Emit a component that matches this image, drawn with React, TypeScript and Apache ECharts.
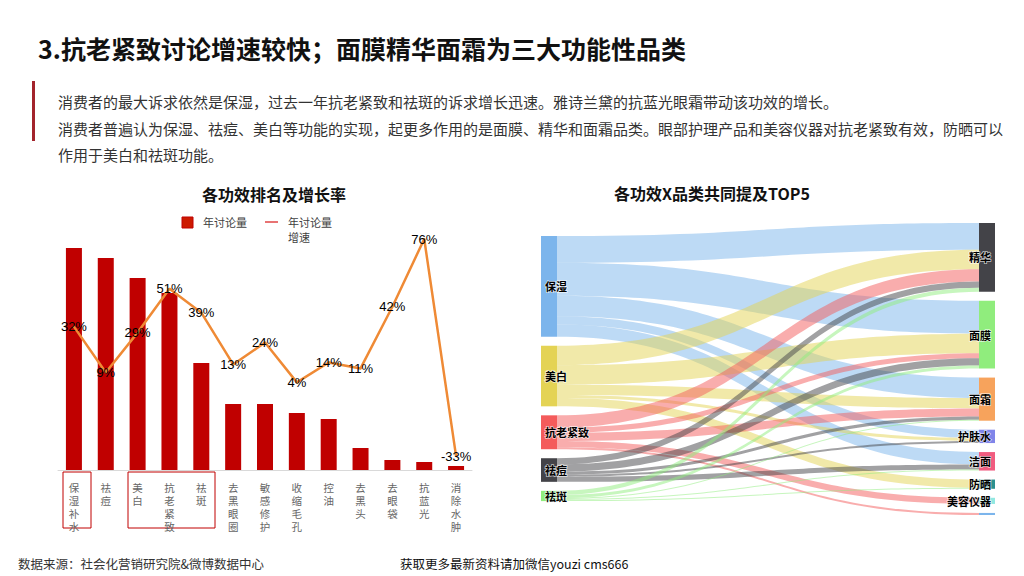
import React, { useEffect, useRef } from "react";
import * as echarts from "echarts";

// ---- Left chart data ----
const categories = ["保湿补水", "祛痘", "美白", "抗老紧致", "祛斑", "去黑眼圈", "敏感修护", "收缩毛孔", "控油", "去黑头", "去眼袋", "抗蓝光", "消除水肿"];
const discussionVolume = [222, 212, 192, 177, 107, 66, 66, 57, 51, 22, 10, 8, 4];
const growthRate = [32, 9, 29, 51, 39, 13, 24, 4, 14, 11, 42, 76, -33];

// ---- Sankey data ----
const efficacyNodes = ["保湿", "美白", "抗老紧致", "祛痘", "祛斑"];
const productNodes = ["精华", "面膜", "面霜", "护肤水", "洁面", "防晒", "美容仪器", "眼部护理"];
const coMentions: [string, string, number][] = [
  ["保湿", "精华", 26], ["保湿", "面膜", 32], ["保湿", "面霜", 20], ["保湿", "护肤水", 8], ["保湿", "洁面", 12],
  ["美白", "精华", 19], ["美白", "面膜", 19], ["美白", "面霜", 10], ["美白", "护肤水", 3], ["美白", "防晒", 8],
  ["抗老紧致", "精华", 12], ["抗老紧致", "面膜", 5], ["抗老紧致", "面霜", 8], ["抗老紧致", "美容仪器", 6], ["抗老紧致", "眼部护理", 2],
  ["祛痘", "精华", 6], ["祛痘", "面膜", 7], ["祛痘", "面霜", 3], ["祛痘", "护肤水", 2], ["祛痘", "洁面", 5],
  ["祛斑", "精华", 4], ["祛斑", "面膜", 3], ["祛斑", "面霜", 1], ["祛斑", "洁面", 1], ["祛斑", "防晒", 1],
];

const nodeColors: Record<string, string> = {
  保湿: "#7cb5ec", 精华: "#434348", 面膜: "#90ed7d", 面霜: "#f7a35c", 护肤水: "#8085e9",
  洁面: "#f15c80", 美白: "#e4d354", 防晒: "#2b908f", 抗老紧致: "#f45b5b", 美容仪器: "#91e8e1",
  眼部护理: "#7cb5ec", 祛痘: "#434348", 祛斑: "#90ed7d",
};

const mainTitle = "3.抗老紧致讨论增速较快；面膜精华面霜为三大功能性品类";
const bodyLines = [
  "消费者的最大诉求依然是保湿，过去一年抗老紧致和祛斑的诉求增长迅速。雅诗兰黛的抗蓝光眼霜带动该功效的增长。",
  "消费者普遍认为保湿、祛痘、美白等功能的实现，起更多作用的是面膜、精华和面霜品类。眼部护理产品和美容仪器对抗老紧致有效，防晒可以",
  "作用于美白和祛斑功能。",
];
const leftTitle = "各功效排名及增长率";
const rightTitle = "各功效X品类共同提及TOP5";
const legendBar = "年讨论量";
const legendLine = ["年讨论量", "增速"];
const sourceNote = "数据来源：社会化营销研究院&微博数据中心";
const contactNote = "获取更多最新资料请加微信youzi cms666";

const CJK = '"Noto Sans CJK SC", "Noto Sans", sans-serif';
const LAT = '"Liberation Sans", "Noto Sans CJK SC", sans-serif';

function txt(text: string, x: number, y: number, opts: any = {}) {
  const align = opts.align || "left";
  return {
    type: "text",
    silent: true,
    style: {
      text,
      x,
      y,
      fill: opts.fill || "#333",
      fontSize: opts.fontSize || 14,
      fontWeight: opts.fontWeight || "normal",
      fontFamily: opts.fontFamily || CJK,
      textAlign: align,
      align,
      textVerticalAlign: "middle",
      verticalAlign: "middle",
    },
  };
}

export default function App() {
  const ref = useRef<HTMLDivElement>(null);
  useEffect(() => {
    if (!ref.current) return;
    const chart = echarts.init(ref.current, null, { renderer: "svg" });

    const spacer = "__spacer__";
    const sankeyNodes: any[] = [
      { name: spacer, value: 4, depth: 0, itemStyle: { color: "rgba(0,0,0,0)" }, label: { show: false } },
      ...efficacyNodes.map((n) => ({
        name: n,
        depth: 0,
        itemStyle: { color: nodeColors[n] },
        label: { position: "insideLeft", distance: 4 },
      })),
      ...productNodes.map((n) => ({
        name: n,
        depth: 1,
        itemStyle: { color: nodeColors[n] },
        label: n === "眼部护理" ? { show: false } : { position: "insideRight", distance: 4 },
      })),
    ];
    const sankeyLinks = coMentions.map(([s, t, v]) => ({ source: s, target: t, value: v }));

    const graphics: any[] = [
      txt(mainTitle, 38, 48, { fontSize: 25, fontWeight: "bold", fill: "#111" }),
      { type: "rect", silent: true, shape: { x: 32, y: 81, width: 3, height: 60 }, style: { fill: "#a3242c" } },
      txt(bodyLines[0], 58, 101, { fontSize: 15, fill: "#333" }),
      txt(bodyLines[1], 58, 128, { fontSize: 15, fill: "#333" }),
      txt(bodyLines[2], 58, 154, { fontSize: 15, fill: "#333" }),
      txt(leftTitle, 274, 194, { fontSize: 16, fontWeight: "bold", fill: "#111", align: "center" }),
      txt(rightTitle, 712, 193, { fontSize: 16, fontWeight: "bold", fill: "#111", align: "center" }),
      { type: "rect", silent: true, shape: { x: 182, y: 217, width: 11, height: 11 }, style: { fill: "#cc1a00", stroke: "#c00000", lineWidth: 1 } },
      txt(legendBar, 203, 222, { fontSize: 11, fill: "#404040" }),
      { type: "line", silent: true, shape: { x1: 265, y1: 222, x2: 278, y2: 222 }, style: { stroke: "#e04545", lineWidth: 1.5 } },
      txt(legendLine[0], 288, 222, { fontSize: 11, fill: "#404040" }),
      txt(legendLine[1], 288, 237, { fontSize: 11, fill: "#404040" }),
      { type: "rect", silent: true, shape: { x: 63, y: 472, width: 28, height: 56 }, style: { fill: "none", stroke: "#c00000", lineWidth: 1 } },
      { type: "rect", silent: true, shape: { x: 128, y: 472, width: 87, height: 56 }, style: { fill: "none", stroke: "#c00000", lineWidth: 1 } },
      txt(sourceNote, 18, 563, { fontSize: 12.5, fill: "#333" }),
      txt(contactNote, 400, 563, { fontSize: 12.5, fill: "#111" }),
    ];

    chart.setOption({
      animation: false,
      grid: { left: 58, right: 1024 - 472, top: 239, bottom: 576 - 470, containLabel: false },
      xAxis: {
        type: "category",
        data: categories,
        axisTick: { show: false },
        axisLine: { show: true, lineStyle: { color: "#d9d9d9", width: 1 } },
        axisLabel: {
          interval: 0,
          margin: 11,
          color: "#666",
          fontSize: 10.5,
          lineHeight: 13,
          fontFamily: CJK,
          verticalAlign: "top",
          formatter: (v: string) => v.split("").join("\n"),
        },
      },
      yAxis: [
        { type: "value", min: 0, max: 231, show: false, splitLine: { show: false } },
        { type: "value", min: -40, max: 76, show: false, splitLine: { show: false } },
      ],
      series: [
        {
          type: "bar",
          name: legendBar,
          data: discussionVolume,
          barWidth: 16,
          itemStyle: { color: "#c00000" },
          emphasis: { disabled: true },
        },
        {
          type: "line",
          name: "年讨论量增速",
          yAxisIndex: 1,
          data: growthRate,
          symbol: "circle",
          symbolSize: 2,
          showSymbol: true,
          itemStyle: { color: "#ef8a35" },
          lineStyle: { color: "#ef8a35", width: 2.5 },
          label: {
            show: true,
            position: "inside",
            formatter: (p: any) => p.value + "%",
            color: "#000",
            fontSize: 13,
            fontFamily: LAT,
          },
          z: 5,
          emphasis: { disabled: true },
        },
        {
          type: "sankey",
          left: 541,
          right: 29,
          top: 223,
          bottom: 61,
          nodeWidth: 16,
          nodeGap: 9,
          nodeAlign: "left",
          layoutIterations: 0,
          draggable: false,
          data: sankeyNodes,
          links: sankeyLinks,
          lineStyle: { color: "source", opacity: 0.5, curveness: 0.5 },
          itemStyle: { borderWidth: 0 },
          label: {
            show: true,
            color: "#000",
            fontSize: 11,
            fontWeight: "bold",
            fontFamily: CJK,
            textBorderColor: "rgba(255,255,255,0.7)",
            textBorderWidth: 1.5,
          },
          emphasis: { disabled: true },
        },
      ],
      graphic: { elements: graphics },
    });

    return () => chart.dispose();
  }, []);

  return <div ref={ref} style={{ position: "absolute", left: 0, top: 0, width: 1024, height: 576, background: "#fff" }} />;
}
